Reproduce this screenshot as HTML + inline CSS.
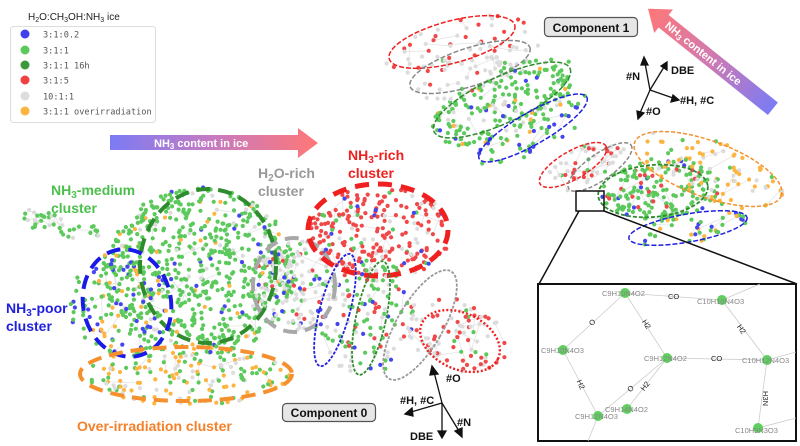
<!DOCTYPE html>
<html><head><meta charset="utf-8">
<style>
html,body{margin:0;padding:0;background:#fff;}
body{width:800px;height:446px;overflow:hidden;position:relative;font-family:"Liberation Sans",sans-serif;}
svg{position:absolute;left:0;top:0;}
</style></head>
<body>
<svg id="s" width="800" height="446" viewBox="0 0 800 446" xmlns="http://www.w3.org/2000/svg">
<g id="lines" stroke="#e0e0e0" stroke-width="0.7" fill="none"></g>
<g id="dots"></g>
<g id="ells" fill="none"></g>
</svg>
<svg width="800" height="446" viewBox="0 0 800 446" xmlns="http://www.w3.org/2000/svg" font-family="Liberation Sans, sans-serif">
<defs>
<linearGradient id="g1" x1="0" x2="1" y1="0" y2="0"><stop offset="0" stop-color="#7b7bf5"/><stop offset="0.5" stop-color="#c77bc0"/><stop offset="1" stop-color="#f77"/></linearGradient>
<linearGradient id="g2" x1="0" x2="1" y1="0" y2="0"><stop offset="0" stop-color="#ff7777"/><stop offset="0.5" stop-color="#d07ab0"/><stop offset="1" stop-color="#7b7bf5"/></linearGradient>
</defs>
<!-- legend -->
<text x="28" y="20" font-size="10" fill="#222">H<tspan font-size="7" dy="2">2</tspan><tspan dy="-2">O:CH</tspan><tspan font-size="7" dy="2">3</tspan><tspan dy="-2">OH:NH</tspan><tspan font-size="7" dy="2">3</tspan><tspan dy="-2"> ice</tspan></text>
<rect x="10.5" y="26.5" width="145" height="96" rx="3" fill="#fff" stroke="#ddd"/>
<g font-size="8.6" fill="#555" font-family="DejaVu Sans Mono, monospace">
<circle cx="25" cy="34" r="4.5" fill="#4040f0"/><text x="43" y="37.5">3:1:0.2</text>
<circle cx="25" cy="50" r="4.5" fill="#5cc95c"/><text x="43" y="53.5">3:1:1</text>
<circle cx="25" cy="65" r="4.5" fill="#3a9a3a"/><text x="43" y="68.5">3:1:1 16h</text>
<circle cx="25" cy="80" r="4.5" fill="#f04040"/><text x="43" y="83.5">3:1:5</text>
<circle cx="25" cy="96" r="4.5" fill="#ddd"/><text x="43" y="99.5">10:1:1</text>
<circle cx="25" cy="111" r="4.5" fill="#fdb441"/><text x="43" y="114.5">3:1:1 overirradiation</text>
</g>
<!-- horizontal arrow -->
<path d="M110 135 H298 V128 L318 143 L298 158 V150 H110 Z" fill="url(#g1)"/>
<text x="154" y="147" font-size="11" font-weight="bold" fill="#fff">NH<tspan font-size="8" dy="2">3</tspan><tspan dy="-2"> content in ice</tspan></text>
<!-- diagonal arrow: head top-left -->
<g transform="translate(712,60) rotate(38.7)">
<path d="M-62 -8 H78 V8 H-62 V15 L-82 0 L-62 -15 Z" fill="url(#g2)"/>
<text x="-58" y="4" font-size="11" font-weight="bold" fill="#fff">NH<tspan font-size="8" dy="2">3</tspan><tspan dy="-2"> content in ice</tspan></text>
</g>
<!-- cluster labels -->
<g font-size="14" font-weight="bold">
<text x="348" y="160" fill="#f02020">NH<tspan font-size="10" dy="3">3</tspan><tspan dy="-3">-rich</tspan></text>
<text x="348" y="178" fill="#f02020">cluster</text>
<text x="258" y="178" fill="#999">H<tspan font-size="10" dy="3">2</tspan><tspan dy="-3">O-rich</tspan></text>
<text x="258" y="196" fill="#999">cluster</text>
<text x="51" y="195" fill="#4cc04c">NH<tspan font-size="10" dy="3">3</tspan><tspan dy="-3">-medium</tspan></text>
<text x="51" y="213" fill="#4cc04c">cluster</text>
<text x="6" y="313" fill="#2020e0">NH<tspan font-size="10" dy="3">3</tspan><tspan dy="-3">-poor</tspan></text>
<text x="6" y="331" fill="#2020e0">cluster</text>
<text x="77" y="431" fill="#f5802a">Over-irradiation cluster</text>
</g>
<rect x="282.5" y="403.5" width="93" height="18" rx="4" fill="#e6e6e6" stroke="#555" stroke-width="1.2"/>
<text x="329" y="417" font-size="12" font-weight="bold" text-anchor="middle" fill="#111">Component 0</text>
<rect x="544.5" y="17.5" width="93" height="19" rx="4" fill="#e6e6e6" stroke="#555" stroke-width="1.2"/>
<text x="591" y="32" font-size="12" font-weight="bold" text-anchor="middle" fill="#111">Component 1</text>
<!-- axes -->
<g stroke="#111" stroke-width="1.3" fill="#111">
<line x1="442" y1="403" x2="434" y2="372"/><path d="M432 366 L438 374 L430 375 Z"/>
<line x1="442" y1="403" x2="411" y2="412"/><path d="M405 414 L412 408 L413 416 Z"/>
<line x1="442" y1="403" x2="442" y2="432"/><path d="M438 431 L446 431 L442 438 Z"/>
<line x1="442" y1="403" x2="459" y2="431"/><path d="M462 437 L455 431 L462 428 Z"/>
<line x1="650" y1="90" x2="645" y2="63"/><path d="M644 57 L648 65 L641 65 Z"/>
<line x1="650" y1="90" x2="664" y2="67"/><path d="M667 62 L667 70 L661 66 Z"/>
<line x1="650" y1="90" x2="673" y2="98"/><path d="M679 100 L671 102 L673 95 Z"/>
<line x1="650" y1="90" x2="640" y2="113"/><path d="M638 119 L637 111 L644 113 Z"/>
</g>
<g font-size="11" font-weight="bold" fill="#111">
<text x="446" y="382">#O</text><text x="400" y="404">#H, #C</text><text x="410" y="440">DBE</text><text x="457" y="426">#N</text>
<text x="626" y="80">#N</text><text x="671" y="74">DBE</text><text x="680" y="104">#H, #C</text><text x="646" y="115">#O</text>
</g>
<!-- inset -->
<rect x="576" y="191" width="28" height="20" fill="none" stroke="#111" stroke-width="1.5"/>
<line x1="579" y1="211" x2="539" y2="284" stroke="#111" stroke-width="1.5"/>
<line x1="604" y1="211" x2="797" y2="284" stroke="#111" stroke-width="1.5"/>
<rect x="538" y="284" width="258" height="157" fill="#fff" stroke="#111" stroke-width="2"/>
<g stroke="#ccc" stroke-width="0.8">
<line x1="625" y1="293" x2="722" y2="300"/><line x1="625" y1="293" x2="563" y2="350"/><line x1="625" y1="293" x2="667" y2="358"/>
<line x1="722" y1="300" x2="767" y2="360"/><line x1="722" y1="300" x2="760" y2="284"/><line x1="667" y1="358" x2="767" y2="360"/>
<line x1="563" y1="350" x2="598" y2="416"/><line x1="667" y1="358" x2="598" y2="416"/><line x1="667" y1="358" x2="627" y2="409"/>
<line x1="767" y1="360" x2="758" y2="428"/><line x1="767" y1="360" x2="796" y2="352"/><line x1="758" y1="428" x2="796" y2="418"/><line x1="598" y1="416" x2="588" y2="441"/>
</g>
<g fill="#5fcf5f">
<circle cx="625" cy="293" r="5"/><circle cx="722" cy="300" r="5"/><circle cx="563" cy="350" r="5"/><circle cx="667" cy="358" r="5"/>
<circle cx="767" cy="360" r="5"/><circle cx="627" cy="409" r="5"/><circle cx="598" cy="416" r="5"/><circle cx="758" cy="428" r="5"/>
</g>
<g font-size="7.5" fill="#888">
<text x="602" y="296">C9H10N4O2</text><text x="697" y="304">C10H10N4O3</text><text x="541" y="353">C9H10N4O3</text>
<text x="644" y="361">C9H12N4O2</text><text x="742" y="363">C10H12N4O3</text><text x="605" y="412">C9H14N4O2</text>
<text x="575" y="419">C9H12N4O3</text><text x="735" y="433">C10H9N3O3</text>
</g>
<g font-size="7.5" fill="#222">
<text x="668" y="299">CO</text><text x="711" y="361">CO</text>
<text x="589" y="325" transform="rotate(-42 592 322)">O</text>
<text x="642" y="325" transform="rotate(57 645 323)">H2</text>
<text x="737" y="330" transform="rotate(55 740 328)">H2</text>
<text x="576" y="386" transform="rotate(65 580 384)">H2</text>
<text x="628" y="391" transform="rotate(-45 631 389)">O</text>
<text x="641" y="389" transform="rotate(-52 645 387)">H2</text>
<text x="760" y="394" transform="rotate(90 763 394)">H3N</text>
</g>
</svg>
<script>
var seed=7;function r(){seed=(seed*16807)%2147483647;return (seed-1)/2147483646;}
var NS="http://www.w3.org/2000/svg";
var D=document.getElementById('dots'),L=document.getElementById('lines'),E=document.getElementById('ells');
var C={b:'#4545f0',g:'#5cc95c',dg:'#3a9a3a',r:'#f04848',gr:'#dcdcdc',o:'#fdb441'};
function cloud(cx,cy,rx,ry,rot,n,cols,rad){
 var a=rot*Math.PI/180,prev=null;
 for(var i=0;i<n;i++){
  var t=r()*2*Math.PI,d=Math.sqrt(r());
  var x0=Math.cos(t)*rx*d,y0=Math.sin(t)*ry*d;
  var x=cx+x0*Math.cos(a)-y0*Math.sin(a),y=cy+x0*Math.sin(a)+y0*Math.cos(a);
  var p=r(),c=cols[cols.length-1][0],acc=0;
  for(var k=0;k<cols.length;k++){acc+=cols[k][1];if(p<acc){c=cols[k][0];break;}}
  if(prev&&r()<0.5&&Math.hypot(prev[0]-x,prev[1]-y)<30){var l=document.createElementNS(NS,'line');l.setAttribute('x1',prev[0]);l.setAttribute('y1',prev[1]);l.setAttribute('x2',x);l.setAttribute('y2',y);L.appendChild(l);}
  prev=[x,y];
  var e=document.createElementNS(NS,'circle');e.setAttribute('cx',x.toFixed(1));e.setAttribute('cy',y.toFixed(1));e.setAttribute('r',rad||2.1);e.setAttribute('fill',C[c]);D.appendChild(e);
 }
}
cloud(200,272,95,85,0,650,[['g',0.82],['b',0.04],['o',0.05],['gr',0.09]]);
cloud(120,305,50,55,0,130,[['g',0.5],['b',0.3],['o',0.2]]);
cloud(186,375,105,30,0,170,[['o',0.4],['g',0.35],['gr',0.25]]);
cloud(60,225,45,12,15,40,[['g',0.7],['gr',0.3]]);
cloud(295,285,45,50,0,160,[['gr',0.65],['g',0.15],['r',0.1],['b',0.1]]);
cloud(380,232,72,48,0,240,[['r',0.8],['gr',0.1],['g',0.05],['b',0.05]]);
cloud(370,318,50,60,10,130,[['g',0.4],['gr',0.3],['r',0.2],['b',0.1]]);
cloud(455,335,55,35,20,90,[['r',0.4],['gr',0.5],['g',0.1]]);
cloud(455,45,75,25,-15,45,[['gr',0.6],['r',0.4]]);
cloud(475,70,70,22,-18,60,[['gr',0.75],['r',0.1],['g',0.15]]);
cloud(505,102,80,32,-25,190,[['g',0.8],['gr',0.08],['b',0.07],['o',0.05]]);
cloud(535,130,65,22,-30,60,[['g',0.6],['b',0.3],['o',0.1]]);
cloud(585,165,45,18,-30,50,[['gr',0.5],['r',0.3],['g',0.2]]);
cloud(660,190,60,30,-5,170,[['g',0.85],['b',0.05],['r',0.1]]);
cloud(710,170,78,30,20,90,[['o',0.6],['gr',0.3],['g',0.1]]);
cloud(690,228,60,15,-10,40,[['g',0.5],['b',0.2],['o',0.3]]);
function ell(cx,cy,rx,ry,rot,col,w,dash){
 var e=document.createElementNS(NS,'ellipse');e.setAttribute('cx',cx);e.setAttribute('cy',cy);e.setAttribute('rx',rx);e.setAttribute('ry',ry);
 e.setAttribute('transform','rotate('+rot+' '+cx+' '+cy+')');e.setAttribute('stroke',col);e.setAttribute('stroke-width',w);e.setAttribute('stroke-dasharray',dash);E.appendChild(e);
}
ell(208,266,68,77,0,'#2e8b2e',4,'14 8');
ell(127,303,44,54,-10,'#1a1ae6',4,'14 8');
ell(186,374,106,27,0,'#f5902f',4,'14 8');
ell(294,285,41,47,0,'#a8a8a8',4,'14 8');
ell(378,230,70,46,0,'#f02020',5,'14 9');
ell(335,310,15,58,15,'#2020e0',1.8,'3 1.5');
ell(371,318,15,58,12,'#2e8b2e',1.8,'3 1.5');
ell(420,325,23,62,30,'#999',1.8,'3 1.5');
ell(460,341,42,28,25,'#f02020',2.4,'2 2');
ell(452,42,65,21,-15,'#f02020',1.5,'5 2');
ell(470,67,63,19,-18,'#888',1.5,'5 2');
ell(502,100,75,23,-25,'#2e8b2e',1.5,'5 2');
ell(533,128,62,16,-30,'#2020e0',1.5,'5 2');
ell(573,165,38,14,-30,'#f02020',1.5,'4 2');
ell(600,167,38,13,-35,'#888',1.5,'4 2');
ell(708,169,78,28,20,'#f5902f',1.5,'4 2');
ell(653,191,55,26,-5,'#2e8b2e',1.8,'4 2');
ell(688,228,60,14,-10,'#2020e0',1.5,'5 2');
</script>
</body></html>
